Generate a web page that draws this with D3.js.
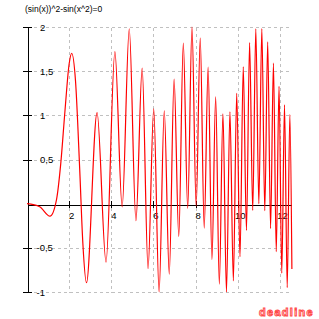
<!DOCTYPE html>
<html>
<head>
<meta charset="utf-8">
<script src="https://cdn.jsdelivr.net/npm/d3@7"></script>
<style>
  body { margin: 0; background: #fff; }
  svg { display: block; }
</style>
</head>
<body>
<div id="chart"></div>
<script>
// curve points: turning points plus a few in the first lobes
var xs = [0, 0.6, 1.09, 1.4, 1.6, 1.8, 2.0, 2.12, 2.3, 2.5, 2.65, 2.822,
    3.324, 3.75, 4.17, 4.514, 4.851, 5.168, 5.463, 5.743, 6.011, 6.267, 6.512,
    6.749, 6.978, 7.2, 7.415, 7.624, 7.827, 8.025, 8.218, 8.407, 8.592, 8.773,
    8.95, 9.124, 9.295, 9.462, 9.627, 9.789, 9.948, 10.104, 10.259, 10.411,
    10.56, 10.708, 10.854, 10.998, 11.14, 11.28, 11.418, 11.555, 11.69, 11.824,
    11.956, 12.086, 12.216, 12.344, 12.47, 12.566];
var ys = [0, -0.034, -0.142, 0.046, 0.45, 1.047, 1.584, 1.703, 1.394, 0.391, -0.451, -0.895,
    1.03, -0.662, 1.722, -0.036, 1.98, -0.193, 1.535, -0.736, 1.072, -1.0, 1.052,
    -0.798, 1.41, -0.37, 1.819, -0.052, 1.999, -0.029, 1.873, -0.277, 1.547, -0.633,
    1.208, -0.911, 1.017, -0.999, 1.04, -0.874, 1.249, -0.602, 1.549, -0.303,
    1.822, -0.077, 1.98, 0.0, 1.981, -0.079, 1.831, -0.281, 1.59, -0.543,
    1.329, -0.787, 1.118, -0.951, 1.009, -0.74];

var xTicks = [2, 4, 6, 8, 10, 12];
var yTicks = [-1, -0.5, 0.5, 1, 1.5, 2];
var yLabels = ["-1", "-0,5", "0,5", "1", "1,5", "2"];
var title = "(sin(x))^2-sin(x^2)=0";

var width = 319, height = 319;

var svg = d3.select("#chart")
  .append("svg")
    .attr("width", width)
    .attr("height", height)
    .style("font-family", "'Liberation Sans', Arial, sans-serif");

var x = d3.scaleLinear()
    .domain([0, 4 * Math.PI])
    .range([27, 291.9]);

var y = d3.scaleLinear()
    .domain([-1, 2])
    .range([292, 27]);

// dashed grid
var grid = svg.append("g")
    .attr("stroke", "#c0c0c0")
    .attr("stroke-dasharray", "3,3")
    .attr("shape-rendering", "crispEdges");

grid.selectAll(".gx")
  .data(xTicks)
  .enter().append("line")
    .attr("x1", function(d) { return x(d) + 0.5; })
    .attr("x2", function(d) { return x(d) + 0.5; })
    .attr("y1", y(2) + 0.5)
    .attr("y2", y(-1) + 0.5);

grid.selectAll(".gy")
  .data(yTicks)
  .enter().append("line")
    .attr("x1", x(0) + 0.5)
    .attr("x2", x(4 * Math.PI) + 0.5)
    .attr("y1", function(d) { return y(d) + 0.5; })
    .attr("y2", function(d) { return y(d) + 0.5; });

// axes cross at the origin, ticks go through the axis line
var xAxis = svg.append("g")
    .attr("transform", "translate(0,204.5)")
    .call(d3.axisBottom(x).tickValues(xTicks).tickSizeOuter(0).tickFormat(d3.format("d")));

xAxis.selectAll(".tick line").attr("y1", -3.5).attr("y2", 3.5);
xAxis.selectAll(".tick text")
    .attr("x", 2)
    .attr("y", 8)
    .attr("fill", "#000")
    .style("font-size", "9.5px");

var yAxis = svg.append("g")
    .attr("transform", "translate(" + (x(0) + 0.5) + ",0)")
    .call(d3.axisRight(y).tickValues(yTicks).tickSizeOuter(0)
      .tickFormat(function(d, i) { return yLabels[i]; }));

yAxis.selectAll(".tick line").attr("x1", -4.5).attr("x2", 4.5);
yAxis.selectAll(".tick text")
    .attr("x", function(d) { return d < 0 ? 9 : 12.5; })
    .attr("fill", "#000")
    .style("font-size", "9.5px");

svg.selectAll(".domain, .tick line")
    .attr("stroke", "#000")
    .attr("shape-rendering", "crispEdges");

// the curve
var line = d3.line()
    .x(function(d) { return x(d); })
    .y(function(d, i) { return y(ys[i]); })
    .curve(d3.curveMonotoneX);

svg.append("path")
    .attr("d", line(xs))
    .attr("fill", "none")
    .attr("stroke", "#ff0000")
    .attr("stroke-width", 1.2);

svg.append("text")
    .attr("x", 25)
    .attr("y", 11.5)
    .style("font-size", "8.5px")
    .text(title);

// program logo, bottom right
svg.append("text")
    .attr("x", 314)
    .attr("y", 316)
    .attr("text-anchor", "end")
    .attr("fill", "#ffe4e4")
    .attr("stroke", "#ff4848")
    .attr("stroke-width", 0.9)
    .style("font-size", "11px")
    .style("font-weight", "bold")
    .style("letter-spacing", "1.3px")
    .text("deadline");
</script>
</body>
</html>
